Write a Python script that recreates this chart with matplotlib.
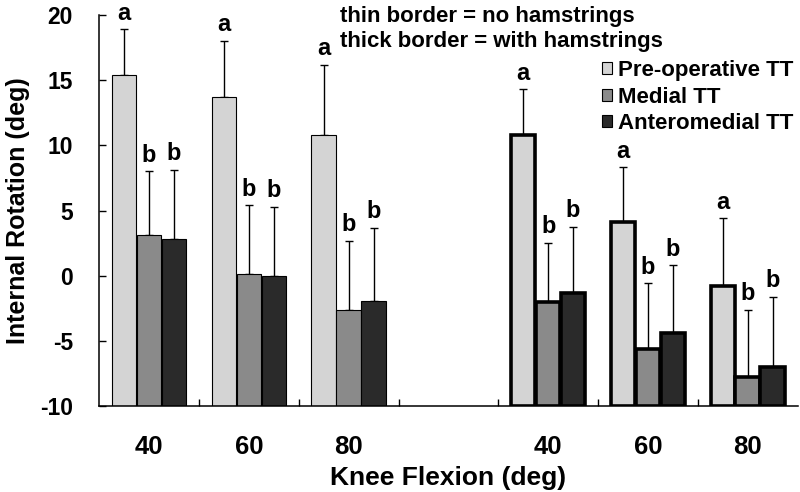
import numpy as np
import matplotlib.pyplot as plt
from matplotlib.patches import Patch

plt.rcParams['font.family'] = ['Liberation Sans', 'DejaVu Sans']
plt.rcParams['font.weight'] = 'bold'
plt.rcParams['axes.labelweight'] = 'bold'
plt.rcParams['axes.unicode_minus'] = False

# Knee flexion angles (deg), shown twice: without and with hamstrings load
flexion = ['40', '60', '80']
series = ['Pre-operative TT', 'Medial TT', 'Anteromedial TT']
colors = ['#d4d4d4', '#8a8a8a', '#2a2a2a']
letters = ['a', 'b', 'b']

# thin border = no hamstrings (mean, SD)
pre_no = [15.4, 13.7, 10.8]
pre_no_sd = [3.5, 4.3, 5.4]
med_no = [3.1, 0.1, -2.6]
med_no_sd = [4.9, 5.3, 5.25]
am_no = [2.8, 0.0, -1.95]
am_no_sd = [5.3, 5.3, 5.6]

# thick border = with hamstrings (mean, SD)
pre_ham = [10.8, 4.1, -0.8]
pre_ham_sd = [3.5, 4.2, 5.2]
med_ham = [-2.0, -5.6, -7.75]
med_ham_sd = [4.5, 5.0, 5.15]
am_ham = [-1.3, -4.4, -7.0]
am_ham_sd = [5.05, 5.2, 5.35]

base = -10
width = 0.245
offsets = [-0.25, 0, 0.25]

fig = plt.figure(figsize=(8, 4.92), dpi=100)
ax = fig.add_axes([0.124, 0.1748, 0.873, 0.7947])

groups = [
    (np.array([0, 1, 2]), [pre_no, med_no, am_no], [pre_no_sd, med_no_sd, am_no_sd], 0.8),
    (np.array([4, 5, 6]), [pre_ham, med_ham, am_ham], [pre_ham_sd, med_ham_sd, am_ham_sd], 2.6),
]

for x, means, sds, lw in groups:
    for i in range(3):
        m = np.array(means[i])
        sd = np.array(sds[i])
        xs = x + offsets[i]
        ax.bar(xs, m - base, bottom=base, width=width, color=colors[i],
               edgecolor='black', linewidth=lw, zorder=2)
        ax.errorbar(xs, m, yerr=[np.zeros(3), sd], fmt='none', ecolor='black',
                    elinewidth=1, capsize=3.2, capthick=1, zorder=1)
        for xi, top in zip(xs, m + sd):
            ax.annotate(letters[i], (xi, top), xytext=(0, 7), textcoords='offset points',
                        ha='center', va='baseline', fontsize=17)

ax.set_xlim(-0.5, 6.5)
ax.set_ylim(-10, 20)
ax.set_yticks(range(-10, 21, 5))
ax.set_xticks([0, 1, 2, 4, 5, 6], flexion + flexion)
ax.set_xticks([0.5, 1.5, 2.5, 3.5, 4.5, 5.5], minor=True)
ax.tick_params(axis='x', which='major', length=0, pad=21, labelsize=18.5)
ax.tick_params(axis='x', which='minor', direction='in', length=5, width=1)
ax.tick_params(axis='y', direction='in', length=5, width=1, pad=19, labelsize=16.5)
for s in ['top', 'right']:
    ax.spines[s].set_visible(False)
for s in ['left', 'bottom']:
    ax.spines[s].set_linewidth(1.1)

ax.set_xlabel('Knee Flexion (deg)', fontsize=19, labelpad=5)
ax.set_ylabel('Internal Rotation (deg)', fontsize=18, labelpad=7)

fig.text(0.425, 1 - 22 / 492, 'thin border = no hamstrings', fontsize=16, va='baseline')
fig.text(0.425, 1 - 47 / 492, 'thick border = with hamstrings', fontsize=16, va='baseline')

handles = [Patch(facecolor=c, edgecolor='black', linewidth=0.8) for c in colors]
ax.legend(handles, series, loc='upper left', bbox_to_anchor=(0.752, 1 - 60 / 492),
          bbox_transform=fig.transFigure, frameon=False, fontsize=16,
          handlelength=0.45, handleheight=0.45, handletextpad=0.3,
          labelspacing=0.25, borderpad=0, borderaxespad=0)

fig.savefig('out.png', dpi=100)
